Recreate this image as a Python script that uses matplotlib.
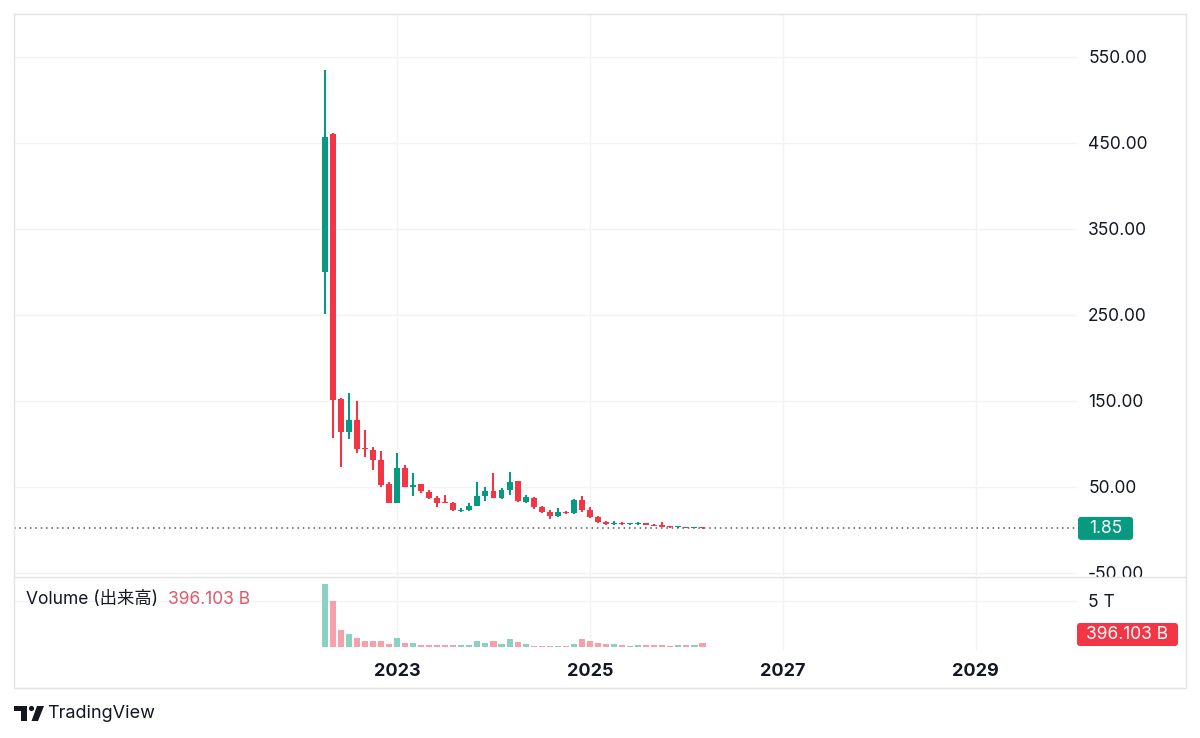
import matplotlib
matplotlib.use("Agg")
import matplotlib.pyplot as plt
from matplotlib.patches import FancyBboxPatch, Polygon, Circle
from matplotlib.lines import Line2D
from matplotlib.transforms import IdentityTransform
import pandas as pd

# ---------------- data (monthly candles) ----------------
months = [str(p) for p in pd.period_range("2022-04", "2026-03", freq="M")]
opens = [300, 460, 152, 114, 128, 95, 93, 81, 53, 31, 72, 50,
         53, 44, 37, 32, 31, 22, 23, 28, 39, 45, 37, 47,
         57, 33, 37, 27, 21, 16, 21, 20, 35, 23, 15, 9,
         7, 8, 7, 7, 8, 6, 6, 3.5, 3, 3.2, 2.6, 2.8]
highs = [535, 462, 154, 159, 150, 116, 96, 92, 56, 90, 76, 66,
         54, 46, 40, 41, 33, 26, 31, 56, 50, 66, 49, 67,
         57, 41, 38, 28, 23, 26, 22, 36, 40, 27, 16, 10,
         10, 9, 8.5, 9, 8.5, 7, 9, 4, 3.6, 3.5, 3.0, 3.0]
lows = [251, 107, 73, 106, 89, 85, 70, 50, 31, 31, 50, 40,
        43, 36, 27, 31, 22, 21, 22, 28, 34, 37, 36, 41,
        32, 31, 24, 20, 13, 15, 19, 19, 21, 14, 8, 6,
        6, 6, 6, 6, 6, 5, 3, 2.5, 2.5, 2.3, 2.2, 1.7]
closes = [457, 151, 114, 128, 94, 94, 81, 52, 31, 72, 50, 52,
          45, 37, 31, 31, 23, 23, 28, 39, 45, 37, 47, 56,
          34, 38, 27, 21, 16, 21, 20, 35, 23, 15, 9, 7,
          8, 7, 7.5, 8, 6, 5, 3, 3, 3.2, 2.6, 2.8, 1.85]
volumes_t = [6.8, 5.0, 1.8, 1.45, 1.0, 0.67, 0.67, 0.67, 0.3, 1.0, 0.47, 0.48,
             0.2, 0.2, 0.25, 0.25, 0.2, 0.2, 0.2, 0.6, 0.45, 0.7, 0.35, 0.9,
             0.5, 0.3, 0.15, 0.15, 0.15, 0.15, 0.15, 0.3, 0.9, 0.65, 0.45, 0.35,
             0.35, 0.2, 0.15, 0.2, 0.2, 0.2, 0.2, 0.15, 0.2, 0.2, 0.25, 0.4]
year_ticks = ["2023", "2025", "2027", "2029"]
price_ticks = [-50, 50, 150, 250, 350, 450, 550]
volume_ticks = [5]
volume_tick_labels = ["5 T"]
last_price = 1.85
volume_name = "Volume (出来高)"
last_volume_label = "396.103 B"

# ---------------- style ----------------
plt.rcParams["font.family"] = ["Inter", "Noto Sans CJK JP", "DejaVu Sans"]
GREEN = "#089981"
RED = "#f23645"
VGREEN = "#8ad1c4"
VRED = "#f5a0ab"
TEXT = "#131722"
GRID = "#f3f3f3"
BORDER = "#e3e3e3"
FS = 12.5

W, H = 1200, 738
fig = plt.figure(figsize=(W / 100, H / 100), dpi=100)
fig.patch.set_facecolor("white")


def rect(x0, y0, x1, y1):
    return [x0 / W, 1 - y1 / H, (x1 - x0) / W, (y1 - y0) / H]


def to_m(s):
    y, m = s.split("-")
    return (int(y) - 2023) * 12 + int(m) - 1


xs = [to_m(m) for m in months]
year_pos = [(int(y) - 2023) * 12 for y in year_ticks]
XL = (-47.64, 84.58)

# ---------------- price pane ----------------
ax = fig.add_axes(rect(14, 14, 1077, 576), zorder=0)
ax.set_xlim(*XL)
ax.set_ylim(-53.5, 600)
for s in ax.spines.values():
    s.set_visible(False)
ax.yaxis.tick_right()
ax.set_yticks(price_ticks)
ax.set_yticklabels([f"{v:.2f}" for v in price_ticks])
ax.tick_params(axis="y", length=0, pad=8, labelsize=FS, labelcolor=TEXT)
ax.set_xticks(year_pos)
ax.tick_params(axis="x", length=0, labelbottom=False)
ax.grid(True, color=GRID, lw=1)
ax.set_axisbelow(True)

for x, o, h, l, c in zip(xs, opens, highs, lows, closes):
    col = GREEN if c >= o else RED
    ax.vlines(x, l, h, color=col, lw=1.5, zorder=2)
    bh = max(abs(c - o), 1.3)
    ax.bar(x, bh, bottom=min(o, c), width=0.74, color=col, lw=0, zorder=3)

ax.axhline(last_price, color="#55585f", lw=1.1, ls=(0, (1, 2.5)), zorder=1)

# ---------------- cover for volume pane ----------------
vbg = fig.add_axes(rect(14, 577, 1186, 688), zorder=1)
vbg.set_xticks([]); vbg.set_yticks([])
for s in vbg.spines.values():
    s.set_visible(False)

# ---------------- volume pane ----------------
axv = fig.add_axes(rect(14, 577, 1077, 650), zorder=2)
axv.set_facecolor("none")
axv.set_xlim(*XL)
axv.set_ylim(-0.32, 7.55)
for s in axv.spines.values():
    s.set_visible(False)
vcols = [VGREEN if c >= o else VRED for o, c in zip(opens, closes)]
axv.bar(xs, volumes_t, width=0.76, color=vcols, lw=0, zorder=2)
axv.yaxis.tick_right()
axv.set_yticks(volume_ticks)
axv.set_yticklabels(volume_tick_labels)
axv.tick_params(axis="y", length=0, pad=8, labelsize=FS, labelcolor=TEXT)
axv.set_xticks(year_pos)
axv.set_xticklabels(year_ticks, fontweight="bold")
axv.tick_params(axis="x", length=0, pad=9, labelsize=13, labelcolor=TEXT)
axv.grid(True, color=GRID, lw=1)
axv.set_axisbelow(True)

# ---------------- labels ----------------
fig.canvas.draw()
py = ax.transData.transform((0, last_price))[1]
x0 = ax.transAxes.transform((1, 0))[0]
fig.patches.append(FancyBboxPatch((x0 + 1, py - 11.5), 55, 23,
                                  boxstyle="round,pad=0,rounding_size=3",
                                  fc=GREEN, ec="none", transform=IdentityTransform(),
                                  figure=fig, zorder=5))
fig.text(x0 + 28.5, py, f"{last_price:.2f}", color="white", fontsize=FS,
         ha="center", va="center", transform=IdentityTransform(), zorder=6)

fig.patches.append(FancyBboxPatch((1077, H - 646), 101, 23,
                                  boxstyle="round,pad=0,rounding_size=3",
                                  fc=RED, ec="none", transform=IdentityTransform(),
                                  figure=fig, zorder=5))
fig.text(1127.5, H - 634.5, last_volume_label, color="white", fontsize=FS,
         ha="center", va="center", transform=IdentityTransform(), zorder=6)

t1 = fig.text(26 / W, 1 - 600 / H, volume_name, color=TEXT, fontsize=12.5,
              ha="left", va="center", zorder=6)
fig.canvas.draw()
bb = t1.get_window_extent()
fig.text(bb.x1 + 10, H - 600, last_volume_label, color="#e2566a", fontsize=12.5,
         ha="left", va="center", transform=IdentityTransform(), zorder=6)

# ---------------- borders ----------------
fig.lines.append(Line2D([14, 1186, 1186, 14, 14], [H - 14, H - 14, H - 688, H - 688, H - 14],
                        color=BORDER, lw=1, transform=IdentityTransform(), figure=fig, zorder=7))
fig.lines.append(Line2D([14, 1186], [H - 576.5, H - 576.5], color=BORDER, lw=1,
                        transform=IdentityTransform(), figure=fig, zorder=7))

# ---------------- TradingView logo ----------------
logo = [
    Polygon([(14, H - 706), (27, H - 706), (27, H - 721), (21, H - 721), (21, H - 711), (14, H - 711)], closed=True),
    Circle((31.5, H - 708.5), 2.6),
    Polygon([(37, H - 706), (44, H - 706), (38, H - 721), (31.5, H - 721)], closed=True),
]
for p in logo:
    p.set_facecolor(TEXT); p.set_edgecolor("none")
    p.set_transform(IdentityTransform()); p.set_figure(fig); p.set_zorder(6)
    fig.patches.append(p)
fig.text(47, H - 713.5, "TradingView", color=TEXT, fontsize=13, ha="left", va="center",
         transform=IdentityTransform(), zorder=6)

fig.savefig("out.png", dpi=100, facecolor="white")
